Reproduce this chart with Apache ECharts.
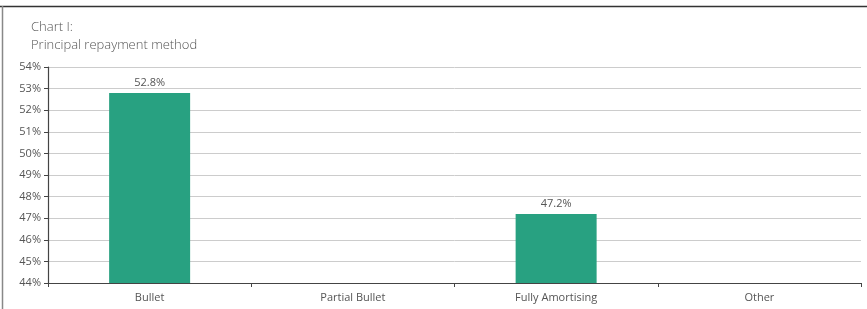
<!DOCTYPE html>
<html><head><meta charset="utf-8">
<script src="https://cdn.jsdelivr.net/npm/echarts@6/dist/echarts.min.js"></script>
<style>html,body{margin:0;padding:0;background:#fff}#c{width:867px;height:309px}</style>
</head><body><div id="c"></div>
<script>
const categories = ["Bullet", "Partial Bullet", "Fully Amortising", "Other"];
const values = [52.8, 0, 47.2, 0];
const titleLines = ["Chart I:", "Principal repayment method"];
const yMin = 44, yMax = 54, yStep = 1;

const FONT = "'Open Sans', Lato, sans-serif";
const chart = echarts.init(document.getElementById('c'));
chart.setOption({
  animation: false,
  textStyle: { fontFamily: FONT },
  title: {
    text: titleLines.join('\n'),
    left: 26, top: 13,
    textStyle: { fontFamily: FONT, fontSize: 13, fontWeight: 300, color: '#555', lineHeight: 18 }
  },
  graphic: [
    { type: 'line', shape: { x1: 0, y1: 6.5, x2: 867, y2: 6.5 }, style: { stroke: '#333', lineWidth: 1.5 } },
    { type: 'line', shape: { x1: 2.5, y1: 6, x2: 2.5, y2: 309 }, style: { stroke: '#888', lineWidth: 1.5 } }
  ],
  grid: { left: 48, right: 6, top: 67, bottom: 26 },
  xAxis: {
    type: 'category', data: categories,
    axisLine: { lineStyle: { color: '#444', width: 1.2 } },
    axisTick: { show: true, alignWithLabel: false, length: 4, lineStyle: { color: '#444' } },
    axisLabel: { color: '#555', fontSize: 11, margin: 9, fontFamily: FONT }
  },
  yAxis: {
    type: 'value', min: yMin, max: yMax, interval: yStep,
    axisLine: { show: true, lineStyle: { color: '#444', width: 1.2 } },
    axisTick: { show: true, length: 4, lineStyle: { color: '#444' } },
    axisLabel: { color: '#555', fontSize: 11, margin: 7, formatter: v => v + '%', fontFamily: FONT },
    splitLine: { lineStyle: { color: '#ccc', width: 1 } }
  },
  series: [{
    type: 'bar', data: values, barWidth: 81, clip: true,
    itemStyle: { color: '#28a181' },
    label: { show: true, position: 'top', distance: 5, color: '#555', fontSize: 11, fontFamily: FONT,
      formatter: p => p.value > yMin ? p.value.toFixed(1) + '%' : '' }
  }]
});
</script></body></html>
